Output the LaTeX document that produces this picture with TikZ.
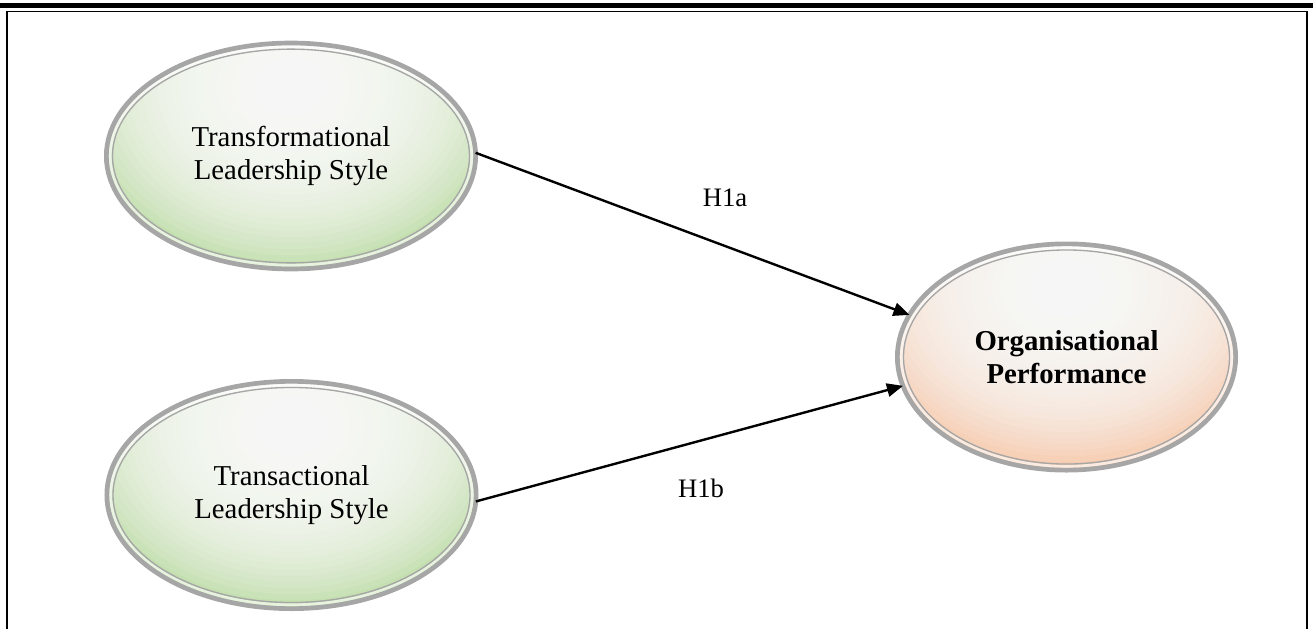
\documentclass[tikz,border=0pt]{standalone}
\usepackage{fontspec}
\setmainfont{Liberation Serif}
\usetikzlibrary{arrows.meta,shapes.geometric}

\definecolor{ringgray}{HTML}{A6A6A6}
\definecolor{leafgreen}{HTML}{BEDCA8}
\definecolor{peach}{HTML}{F6C6A6}

\tikzset{
  % latent construct: tinted ellipse that brightens towards a point above
  % its centre, with a heavy grey rim and a thin inner ring
  construct/.style n args={3}{
    ellipse, inner sep=0pt, outer sep=0pt,
    minimum width=#1, minimum height=#2,
    draw=ringgray, line width=3.5pt,
    align=center, font=\fontsize{21.6pt}{25pt}\selectfont,
    path picture={
      \fill[#3] (path picture bounding box.south west)
        rectangle (path picture bounding box.north east);
      \foreach \k in {1,...,30}
        \fill[white, opacity=.1]
          ([yshift=52pt]path picture bounding box.center)
          ellipse [x radius={172pt*(1-\k/31)}, y radius={140pt*(1-\k/31)}];
      \draw[white, opacity=.6, line width=2.2pt]
        (path picture bounding box.center)
        ellipse [x radius=#1/2-2.9pt, y radius=#2/2-2.9pt];
      \draw[ringgray, line width=1pt]
        (path picture bounding box.center)
        ellipse [x radius=#1/2-4.6pt, y radius=#2/2-4.6pt];
    }
  },
  link/.style={line width=1.8pt, -{Triangle[length=12pt, width=10pt]}},
  hyp/.style={font=\fontsize{20pt}{24pt}\selectfont, inner sep=0pt}
}

\begin{document}
\begin{tikzpicture}[x=0.75pt, y=-0.75pt]
  \useasboundingbox (0,0) rectangle (1313,629);

  % page rule and frame
  \draw[line width=3.75pt] (0,5.8) -- (1313,5.8);
  \draw[line width=1.4pt] (7,629) -- (7,11.5) -- (1307,11.5) -- (1307,629);

  % constructs
  \node[construct={277pt}{169.5pt}{leafgreen}] (tf) at (291,156)
    {Transformational\\Leadership Style};
  \node[construct={277pt}{170.5pt}{leafgreen}] (ta) at (291.5,495)
    {Transactional\\Leadership Style};
  \node[construct={253.75pt}{169.75pt}{peach}] (op) at (1066.5,357)
    {\textbf{Organisational}\\\textbf{Performance}};

  % hypothesised paths
  \draw[link] (tf.1) -- (op.165);
  \draw[link] (ta.-2) -- (op.190.8);

  \node[hyp] (h1a) at (725,198) {H1a};
  \node[hyp] (h1b) at (701,488) {H1b};
\end{tikzpicture}
\end{document}
